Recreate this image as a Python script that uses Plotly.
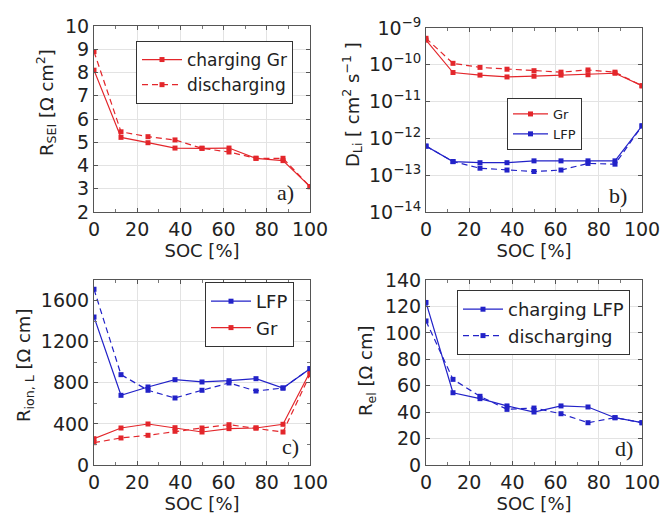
import plotly.graph_objects as go

W, H = 663, 514

soc = [0, 12.5, 25, 37.5, 50, 62.5, 75, 87.5, 100]

# a) R_SEI [Ohm cm^2]
rsei_ch = [8.1, 5.21, 4.98, 4.75, 4.74, 4.75, 4.31, 4.21, 3.09]
rsei_dis = [8.9, 5.45, 5.24, 5.10, 4.74, 4.58, 4.31, 4.31, 3.09]

# b) D_Li [cm^2 s^-1]  (log10 values)
dgr_ch_log = [-9.33, -10.21, -10.28, -10.33, -10.31, -10.28, -10.27, -10.23, -10.57]
dgr_dis_log = [-9.28, -9.96, -10.07, -10.12, -10.16, -10.20, -10.14, -10.20, -10.57]
dlfp_ch_log = [-12.21, -12.63, -12.66, -12.66, -12.61, -12.61, -12.61, -12.61, -11.66]
dlfp_dis_log = [-12.21, -12.63, -12.81, -12.86, -12.90, -12.86, -12.68, -12.70, -11.66]

# c) R_ion,L [Ohm cm]
rion_lfp_ch = [1440, 678, 759, 830, 808, 820, 840, 749, 937]
rion_lfp_dis = [1710, 879, 727, 652, 727, 798, 720, 749, 937]
rion_gr_ch = [256, 360, 399, 363, 321, 354, 360, 396, 905]
rion_gr_dis = [217, 263, 289, 328, 360, 392, 360, 321, 880]

# d) R_el [Ohm cm]
rel_ch = [123, 54.7, 50.2, 44.7, 40.1, 44.7, 43.9, 35.8, 32.0]
rel_dis = [109, 64.8, 52.0, 42.1, 43.1, 38.8, 32.0, 35.8, 32.0]

log_ticks = [-14, -13, -12, -11, -10, -9]

RED = "#e3262b"
BLUE = "#2222c8"
FONT = "DejaVu Sans"
TXT = "#222222"

def px_x(p):
    return p / W

def px_y(p):
    return 1 - p / H

fig = go.Figure()

def add(x, y, color, dash, name, xa, ya, legend, show):
    fig.add_trace(go.Scatter(
        x=x, y=y, mode="lines+markers", name=name,
        line=dict(color=color, width=1.2, dash=dash),
        marker=dict(symbol="square", size=5, color=color),
        xaxis=xa, yaxis=ya, legend=legend, showlegend=show))

dash = "6px,4px"
add(soc, rsei_ch, RED, "solid", "charging Gr", "x", "y", "legend", True)
add(soc, rsei_dis, RED, dash, "discharging", "x", "y", "legend", True)

dgr_ch = [10 ** v for v in dgr_ch_log]
dgr_dis = [10 ** v for v in dgr_dis_log]
dlfp_ch = [10 ** v for v in dlfp_ch_log]
dlfp_dis = [10 ** v for v in dlfp_dis_log]
add(soc, dgr_ch, RED, "solid", "Gr", "x2", "y2", "legend2", True)
add(soc, dlfp_ch, BLUE, "solid", "LFP", "x2", "y2", "legend2", True)
add(soc, dgr_dis, RED, dash, "Gr dis", "x2", "y2", "legend2", False)
add(soc, dlfp_dis, BLUE, dash, "LFP dis", "x2", "y2", "legend2", False)

add(soc, rion_lfp_ch, BLUE, "solid", "LFP", "x3", "y3", "legend3", True)
add(soc, rion_gr_ch, RED, "solid", "Gr", "x3", "y3", "legend3", True)
add(soc, rion_lfp_dis, BLUE, dash, "LFP dis", "x3", "y3", "legend3", False)
add(soc, rion_gr_dis, RED, dash, "Gr dis", "x3", "y3", "legend3", False)

add(soc, rel_ch, BLUE, "solid", "charging LFP", "x4", "y4", "legend4", True)
add(soc, rel_dis, BLUE, dash, "discharging", "x4", "y4", "legend4", True)

common_x = dict(range=[0, 100], tickvals=[0, 20, 40, 60, 80, 100], automargin=False,
                showgrid=True, gridcolor="#e3e3e3", gridwidth=1,
                showline=True, linecolor="#555555", linewidth=1, mirror="ticks",
                ticks="inside", ticklen=4, tickcolor="#555555",
                minor=dict(dtick=10, ticks="inside", ticklen=3, tickcolor="#777777", showgrid=False),
                tickfont=dict(family=FONT, size=19, color=TXT), zeroline=False,
                title=dict(text="SOC [%]", font=dict(family=FONT, size=18, color=TXT), standoff=2))
common_y = dict(showgrid=True, gridcolor="#e3e3e3", gridwidth=1, automargin=False,
                showline=True, linecolor="#555555", linewidth=1, mirror="ticks",
                ticks="inside", ticklen=4, tickcolor="#555555",
                tickfont=dict(family=FONT, size=19, color=TXT), zeroline=False)

xa_l = [px_x(94), px_x(310)]
xa_r = [px_x(426), px_x(642)]
ya_t = [px_y(212), px_y(26)]
yb_t = [px_y(212), px_y(28)]
ya_b = [px_y(465), px_y(280)]

leg = dict(xanchor="left", yanchor="top", bordercolor="#333333", borderwidth=1,
           bgcolor="white", itemwidth=40)

fig.update_layout(
    width=W, height=H, margin=dict(l=0, r=0, t=0, b=0),
    paper_bgcolor="white", plot_bgcolor="white",
    font=dict(family=FONT, color=TXT),
    xaxis=dict(common_x, domain=xa_l, anchor="y"),
    yaxis=dict(common_y, domain=ya_t, anchor="x", range=[2, 10], dtick=1),
    xaxis2=dict(common_x, domain=xa_r, anchor="y2"),
    yaxis2=dict(common_y, domain=yb_t, anchor="x2", type="log", range=[-14, -9],
                tickvals=[10 ** v for v in log_ticks],
                ticktext=["10<sup>\u2212%d</sup>" % (-v) for v in log_ticks]),
    xaxis3=dict(common_x, domain=xa_l, anchor="y3"),
    yaxis3=dict(common_y, domain=ya_b, anchor="x3", range=[0, 1800],
                tickvals=[0, 400, 800, 1200, 1600],
                minor=dict(dtick=200, ticks="inside", ticklen=3, tickcolor="#777777", showgrid=False)),
    xaxis4=dict(common_x, domain=xa_r, anchor="y4"),
    yaxis4=dict(common_y, domain=ya_b, anchor="x4", range=[0, 140], dtick=20),
    legend=dict(leg, x=px_x(136), y=px_y(41), font=dict(family=FONT, size=17, color=TXT)),
    legend2=dict(leg, x=px_x(507), y=px_y(98), itemwidth=35, font=dict(family=FONT, size=13, color=TXT)),
    legend3=dict(leg, x=px_x(205), y=px_y(282), font=dict(family=FONT, size=18, color=TXT)),
    legend4=dict(leg, x=px_x(457), y=px_y(290), font=dict(family=FONT, size=18, color=TXT)),
)

ytitles = [
    ("R<sub>SEI</sub> [\u03a9 cm<sup>2</sup>]", 46, 103),
    ("D<sub>Li</sub> [ cm<sup>2</sup> s<sup>\u22121</sup> ]", 352, 105),
    ("R<sub>ion, L</sub> [\u03a9 cm]", 25, 366),
    ("R<sub>el</sub> [\u03a9 cm]", 367, 371),
]
for txt, x, y in ytitles:
    fig.add_annotation(text=txt, x=px_x(x), y=px_y(y), xref="paper", yref="paper",
                       textangle=-90, showarrow=False, xanchor="center", yanchor="middle",
                       font=dict(family=FONT, size=18, color=TXT))

labels = [("a)", 285, 192), ("b)", 618, 195), ("c)", 290, 446), ("d)", 624, 448)]
for txt, x, y in labels:
    fig.add_annotation(text=txt, x=px_x(x), y=px_y(y), xref="paper", yref="paper",
                       showarrow=False, xanchor="center", yanchor="middle",
                       font=dict(family="Liberation Serif", size=22, color=TXT))

fig.write_html("out.html")
